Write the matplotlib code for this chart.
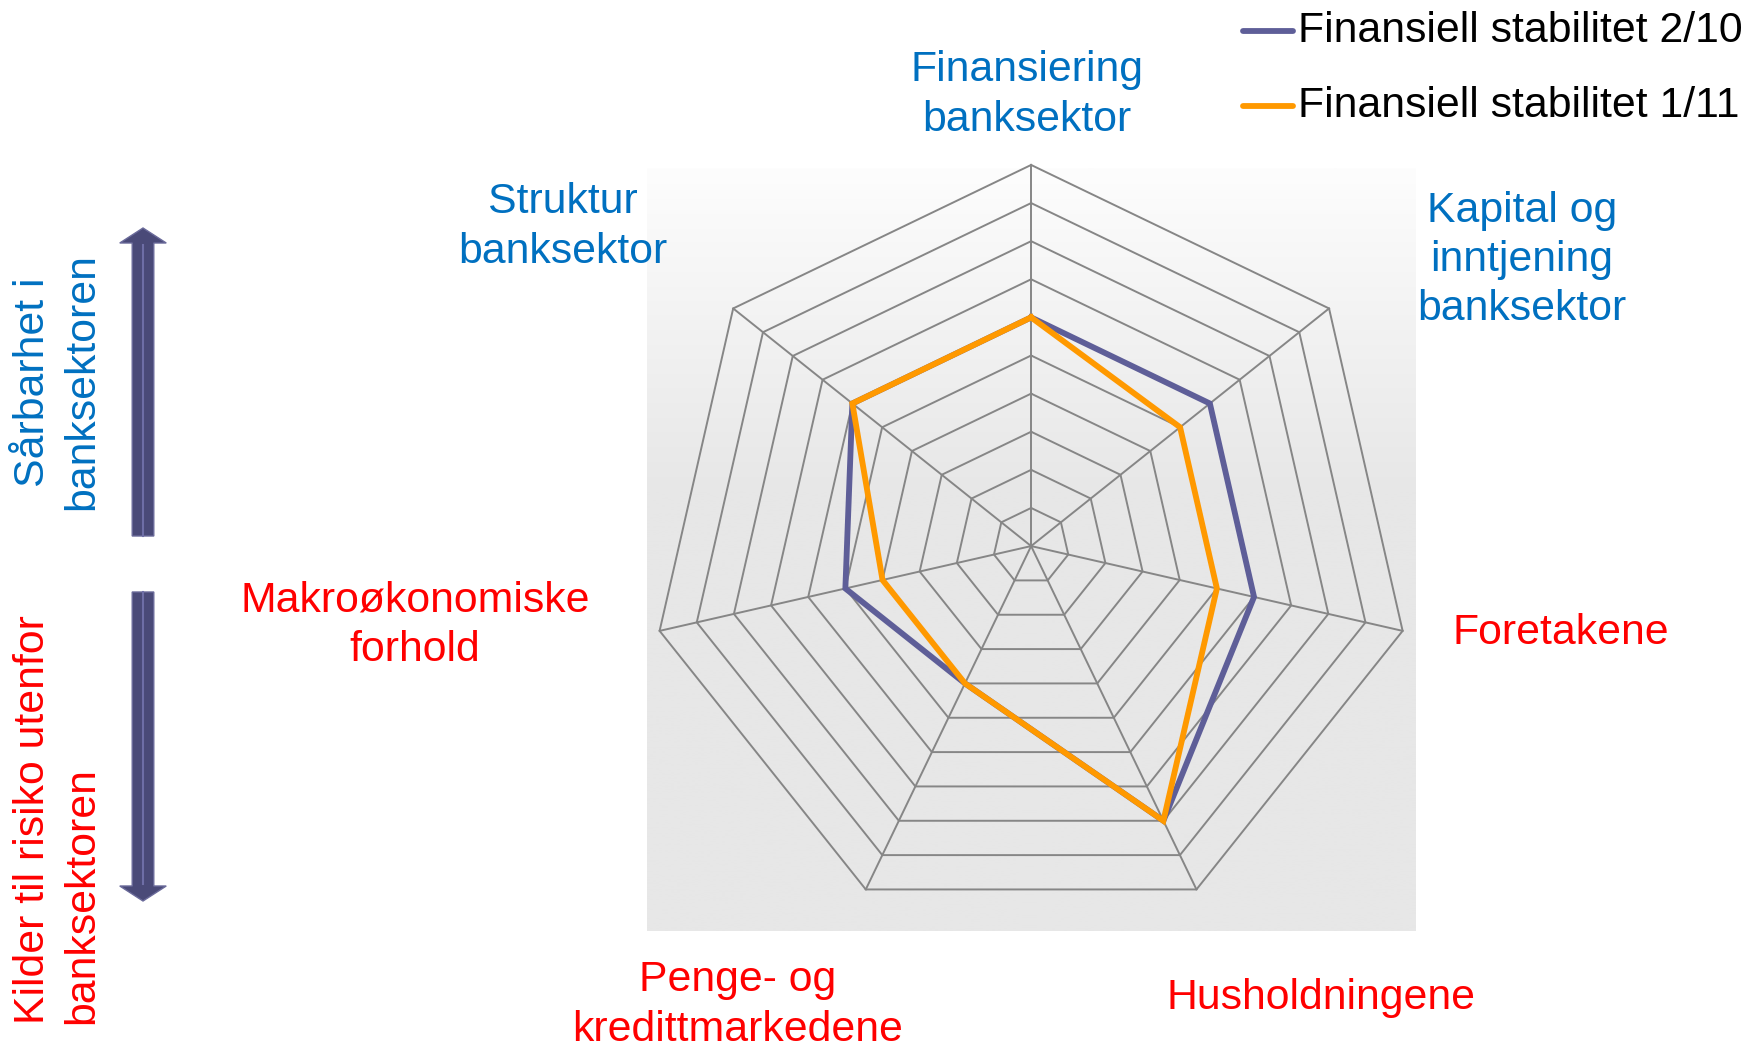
import numpy as np
import matplotlib.pyplot as plt
from matplotlib.colors import LinearSegmentedColormap

categories = ['Finansiering\nbanksektor', 'Kapital og\ninntjening\nbanksektor', 'Foretakene',
              'Husholdningene', 'Penge- og\nkredittmarkedene', 'Makroøkonomiske\nforhold',
              'Struktur\nbanksektor']
series_names = ['Finansiell stabilitet 2/10', 'Finansiell stabilitet 1/11']
fs_2_10 = [6, 6, 6, 8, 4, 5, 6]
fs_1_11 = [6, 5, 5, 8, 4, 4, 6]
n_rings = 10

plt.rcParams['font.family'] = ['Liberation Sans', 'DejaVu Sans']
BLUE = '#0070C0'
RED = '#FF0000'
cat_colors = [BLUE, BLUE, RED, RED, RED, RED, BLUE]
FS = 30.8

W, H = 1748, 1053
fig = plt.figure(figsize=(W / 100, H / 100), dpi=100)
ax = fig.add_axes([647 / W, 1 - 931 / H, 769 / W, 763 / H])
xl = (-10.08, 10.10)
yl = (-10.10, 9.92)
ax.set_xlim(*xl)
ax.set_ylim(*yl)
ax.set_aspect('equal')
ax.axis('off')

# gradient background of plot area
grad = np.concatenate([np.linspace(0, 1, 170), np.ones(230)])[:, None]
cmap = LinearSegmentedColormap.from_list('bg', ['#fdfdfd', '#e7e7e7'])
ax.imshow(grad, cmap=cmap, aspect='auto', extent=(xl[0], xl[1], yl[0], yl[1]),
          origin='upper', zorder=0)

n = len(categories)
ang = np.pi / 2 - 2 * np.pi * np.arange(n) / n
ux, uy = np.cos(ang), np.sin(ang)

# web grid
for r in range(1, n_rings + 1):
    ax.plot(np.append(ux, ux[0]) * r, np.append(uy, uy[0]) * r, color='#868686', lw=1.4,
            zorder=1, clip_on=False)
for i in range(n):
    ax.plot([0, ux[i] * n_rings], [0, uy[i] * n_rings], color='#868686', lw=1.4,
            zorder=1, clip_on=False)

for vals, col, name in [(fs_2_10, '#5E5E98', series_names[0]), (fs_1_11, '#FF9900', series_names[1])]:
    v = np.append(vals, vals[0])
    ax.plot(v * np.append(ux, ux[0]), v * np.append(uy, uy[0]), color=col, lw=4.2,
            solid_joinstyle='miter', zorder=3, label=name)

# category labels (figure pixel positions)
label_pos = [(1027, 95), (1522, 260), (1561, 633), (1321, 998), (738, 1005), (415, 625), (563, 227)]
for lab, (px, py), c in zip(categories, label_pos, cat_colors):
    fig.text(px / W, 1 - py / H, lab, color=c, fontsize=FS, ha='center', va='center',
             multialignment='center', linespacing=1.3)

# side texts
fig.text(58 / W, 1 - 382 / H, 'Sårbarhet i\nbanksektoren', color=BLUE, fontsize=FS,
         rotation=90, ha='center', va='center', multialignment='center', linespacing=1.3)
fig.text(58 / W, 1 - 820 / H, 'Kilder til risiko utenfor\nbanksektoren', color=RED, fontsize=FS,
         rotation=90, ha='center', va='center', multialignment='left', linespacing=1.3)

# arrows
for y0, y1 in [(536, 228), (592, 901)]:
    fig.patches.append(plt.matplotlib.patches.FancyArrow(
        143 / W, 1 - y0 / H, 0, (y0 - y1) / H, width=13 / H, head_width=28 / H,
        head_length=15 / H, length_includes_head=True, transform=fig.transFigure,
        facecolor='#4A4A78', edgecolor='#6A6A9A', lw=1, figure=fig))
    fig.lines.append(plt.Line2D([143 / W, 143 / W], [1 - y0 / H, 1 - (y1 + (17 if y1 < y0 else -17)) / H],
                                color='#6E6EA6', lw=1.5, transform=fig.transFigure, figure=fig))

# legend
for k, (col, name) in enumerate([('#5E5E98', series_names[0]), ('#FF9900', series_names[1])]):
    yy = 1 - (31 + 75 * k) / H
    fig.lines.append(plt.Line2D([1243 / W, 1293 / W], [yy, yy], color=col, lw=4.2,
                                solid_capstyle='round', transform=fig.transFigure, figure=fig))
    fig.text(1298 / W, yy, name, fontsize=FS, color='black', ha='left', va='center')

fig.savefig('out.png', dpi=100)
